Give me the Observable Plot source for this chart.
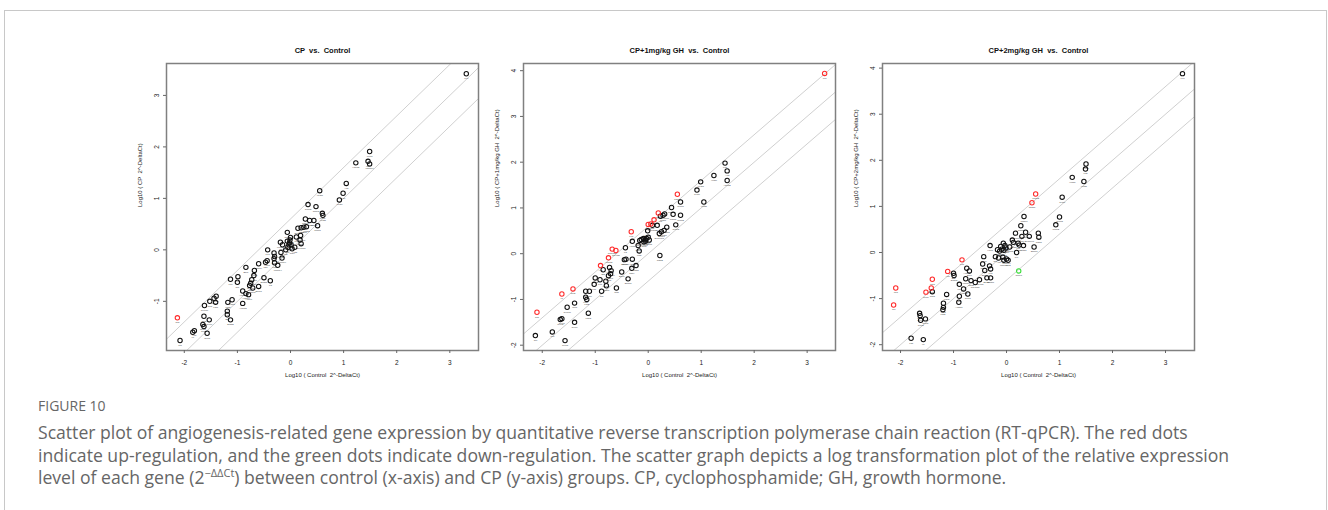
<!DOCTYPE html>
<html><head><meta charset="utf-8">
<script src="https://cdn.jsdelivr.net/npm/d3@7"></script>
<script src="https://cdn.jsdelivr.net/npm/@observablehq/plot@0.6"></script>
<style>
body{margin:0;background:#fff;}
#wrap{position:relative;width:1328px;height:510px;overflow:hidden;background:#fff;}
#frame{position:absolute;left:4px;top:10px;width:1323px;height:620px;border:1px solid #c8c8c8;box-sizing:border-box;}
.panel{position:absolute;top:30px;}
.panel svg{overflow:visible;}
#caption{position:absolute;left:38px;top:396px;width:1285px;font-family:"Open Sans",sans-serif;color:#666;}
#caption .fig{font-size:14px;line-height:20px;margin-bottom:5px;}
#caption .txt{font-size:17.6px;line-height:22.5px;white-space:nowrap;}
#caption sup{font-size:11px;line-height:0;}
</style></head>
<body><div id="wrap"><div id="frame"></div>
<div id="p1" class="panel"></div><div id="p2" class="panel"></div><div id="p3" class="panel"></div>
<div id="caption"><div class="fig">FIGURE 10</div>
<div class="txt">Scatter plot of angiogenesis-related gene expression by quantitative reverse transcription polymerase chain reaction (RT-qPCR). The red dots<br>indicate up-regulation, and the green dots indicate down-regulation. The scatter graph depicts a log transformation plot of the relative expression<br>level of each gene (2<sup>−ΔΔCt</sup>) between control (x-axis) and CP (y-axis) groups. CP, cyclophosphamide; GH, growth hormone.</div></div>
</div>
<script>
const genes = ["Lep","Ifng","Tnf","Il1b","Il6","Ccl2","Cxcl1","Cxcl2","Cxcl5","Cxcl9","Cxcl10","Ccl5","Csf3","Fgf6","Fgf1","Fgf2","Fgfr3","Hgf","Egf","Erbb2","Flt1","Kdr","Tek","Angpt1","Angpt2","Angptl4","Anpep","Bai1","Ccl11","Cdh5","Col18a1","Col4a3","Ctgf","Edn1","Efna1","Ephb4","Epas1","F3","Fn1","Hif1a","Igf1","Itgav","Itgb3","Jag1","Mdk","Mmp14","Mmp19","Mmp2","Mmp3","Mmp9","Nos3","Nrp1","Nrp2","Pdgfa","Pdgfb","Pecam1","Pf4","Pgf","Plau","Plg","Ptgs1","Serpinf1","Serpine1","Sphk1","Tgfa","Tgfb1","Tgfb2","Tgfbr1","Thbs1","Thbs2","Timp1","Timp2","Timp3","Tymp","Vegfa","Vegfb","Vegfc","Figf","Ang","Hand2","Il1a","Lect1","Mapk14","Actb","B2m","Hprt1"];

const xTicks = [-2, -1, 0, 1, 2, 3];
const foldOffsets = [-0.6, 0, 0.6];
const xLabel = "Log10 ( Control  2^-DeltaCt)";

const titles = ["CP  vs.  Control", "CP+1mg/kg GH  vs.  Control", "CP+2mg/kg GH  vs.  Control"];
const yLabels = ["Log10 ( CP  2^-DeltaCt)", "Log10 ( CP+1mg/kg GH  2^-DeltaCt)", "Log10 ( CP+2mg/kg GH  2^-DeltaCt)"];

// Panel 1: CP vs Control
const p1x = [3.31,-2.13,-2.08,-1.81,-1.84,-1.63,-1.65,-1.63,-1.57,-1.53,-1.62,-1.52,-1.44,-1.40,-1.41,-1.18,-1.10,-1.19,-1.19,-1.13,-1.13,-0.99,-1.00,-0.90,-0.90,-0.84,-0.79,-0.84,-0.68,-0.69,-0.73,-0.75,-0.77,-0.71,-0.60,-0.60,-0.50,-0.38,-0.43,-0.44,-0.47,-0.31,-0.30,-0.31,-0.30,-0.24,-0.16,-0.18,-0.19,-0.15,-0.06,-0.06,-0.03,-0.01,0.00,0.01,-0.05,-0.09,0.03,0.11,0.18,0.20,0.19,0.14,0.20,0.25,0.30,0.28,0.36,0.44,0.51,0.33,0.48,0.60,0.61,0.55,0.92,0.99,1.05,1.23,1.46,1.49,1.49,0.08,-0.02];
const p1y = [3.42,-1.32,-1.76,-1.57,-1.60,-1.29,-1.45,-1.49,-1.62,-1.36,-1.08,-1.00,-0.94,-0.90,-1.02,-1.02,-0.97,-1.19,-1.26,-1.36,-0.57,-0.52,-0.63,-0.80,-1.04,-0.85,-0.87,-0.34,-0.40,-0.50,-0.58,-0.65,-0.69,-0.74,-0.71,-0.27,-0.54,-0.60,0.00,-0.21,-0.24,-0.06,-0.13,-0.17,-0.25,-0.30,-0.16,-0.05,0.15,0.10,0.34,0.17,0.10,0.19,0.24,0.10,0.05,0.00,0.02,0.25,0.19,0.12,0.28,0.42,0.43,0.44,0.45,0.60,0.57,0.57,0.47,0.88,0.84,0.71,0.67,1.15,0.97,1.10,1.29,1.69,1.72,1.91,1.67,0.05,0.14];
const p1Up = [1];
const p1Down = [];

// Panel 2: CP+1mg/kg GH vs Control
const p2x = [3.33,-2.10,-2.13,-1.81,-1.63,-1.42,-1.63,-1.66,-1.57,-1.39,-1.53,-1.39,-1.18,-1.11,-1.18,-1.16,-1.13,-0.90,-0.85,-1.00,-0.91,-1.02,-0.88,-0.80,-0.75,-0.73,-0.70,-0.71,-0.75,-0.79,-0.68,-0.61,-0.60,-0.50,-0.45,-0.42,-0.38,-0.43,-0.32,-0.30,-0.30,-0.31,-0.23,-0.19,-0.17,-0.16,-0.13,-0.09,-0.06,-0.03,0.00,-0.08,0.00,0.05,-0.01,0.08,0.17,0.11,0.19,0.23,0.28,0.31,0.21,0.25,0.30,0.35,0.22,0.44,0.47,0.55,0.61,0.61,0.52,0.92,0.99,1.05,1.24,1.45,1.49,1.49,-0.05,0.02];
const p2y = [3.94,-1.28,-1.79,-1.71,-0.88,-0.77,-1.42,-1.44,-1.90,-1.50,-1.17,-1.08,-0.82,-0.82,-0.95,-1.00,-1.30,-0.26,-0.35,-0.53,-0.57,-0.67,-0.82,-0.60,-0.09,-0.30,-0.37,-0.44,-0.48,-0.70,0.10,0.07,-0.75,-0.40,-0.13,-0.12,-0.55,0.13,0.48,0.27,-0.12,-0.32,-0.26,0.18,0.06,0.29,0.31,0.33,0.31,0.33,0.36,0.26,0.64,0.65,0.50,0.62,0.62,0.74,0.89,0.82,0.84,0.87,0.44,0.48,0.51,0.58,-0.04,1.01,0.86,1.30,1.13,0.84,0.63,1.39,1.57,1.13,1.71,1.98,1.81,1.60,0.28,0.30];
const p2Up = [0,1,4,5,17,24,30,31,38,52,53,57,58,69];
const p2Down = [];

// Panel 3: CP+2mg/kg GH vs Control
const p3x = [3.32,-2.09,-2.13,-1.80,-1.57,-1.64,-1.63,-1.62,-1.53,-1.52,-1.42,-1.40,-1.40,-1.19,-1.19,-1.20,-1.13,-1.11,-1.00,-0.99,-0.84,-0.89,-0.89,-0.90,-0.81,-0.77,-0.75,-0.70,-0.73,-0.67,-0.59,-0.51,-0.45,-0.43,-0.41,-0.37,-0.30,-0.32,-0.30,-0.31,-0.21,-0.17,-0.13,-0.11,-0.07,-0.05,0.00,-0.06,-0.03,-0.01,-0.05,-0.09,0.03,0.11,0.13,0.17,0.19,0.22,0.24,0.29,0.32,0.36,0.43,0.52,0.60,0.61,0.27,0.33,0.48,0.55,0.23,0.93,1.00,1.05,1.24,1.46,1.50,1.49,-0.15,0.06];
const p3y = [3.88,-0.77,-1.14,-1.86,-1.89,-1.32,-1.37,-1.47,-1.44,-0.86,-0.77,-0.58,-0.85,-1.10,-1.19,-1.24,-0.91,-0.41,-0.45,-0.50,-0.16,-0.69,-0.95,-1.08,-0.79,-0.57,-0.34,-0.40,-0.90,-0.61,-0.65,-0.59,-0.25,-0.09,-0.39,-0.55,-0.55,-0.29,-0.36,0.15,-0.09,0.06,0.03,0.13,-0.10,-0.17,-0.14,0.20,0.15,0.10,0.05,0.07,-0.17,0.27,0.22,0.42,0.00,0.20,0.16,0.35,0.15,0.44,0.35,0.12,0.42,0.33,0.58,0.78,1.08,1.27,-0.40,0.60,0.77,1.20,1.63,1.54,1.92,1.81,-0.12,0.12];
const p3Up = [1,2,9,10,11,17,20,68,69];
const p3Down = [70];

const statusColor = {none: "#111111", up: "#ff2a2a", down: "#33dd33"};

const panels = [
  {el: "p1", left: 106, x: p1x, y: p1y, up: p1Up, down: p1Down, xDomain: [-2.335, 3.54], yDomain: [-1.955, 3.62], yTicks: [-1, 0, 1, 2, 3], title: titles[0], yLabel: yLabels[0]},
  {el: "p2", left: 463.3, x: p2x, y: p2y, up: p2Up, down: p2Down, xDomain: [-2.354, 3.535], yDomain: [-2.116, 4.157], yTicks: [-2, -1, 0, 1, 2, 3, 4], title: titles[1], yLabel: yLabels[1]},
  {el: "p3", left: 822.3, x: p3x, y: p3y, up: p3Up, down: p3Down, xDomain: [-2.34, 3.547], yDomain: [-2.126, 4.10], yTicks: [-2, -1, 0, 1, 2, 3, 4], title: titles[2], yLabel: yLabels[2]}
];

const font = "'Liberation Sans', Arial, Helvetica, sans-serif";
const fmt = d => String(d);

for (const cfg of panels) {
  const data = cfg.x.map((x, i) => ({
    x, y: cfg.y[i], gene: genes[i % genes.length],
    status: cfg.up.includes(i) ? "up" : cfg.down.includes(i) ? "down" : "none"
  }));
  data.sort((a, b) => (a.status === "none" ? 0 : 1) - (b.status === "none" ? 0 : 1));
  const [x0, x1] = cfg.xDomain;
  const lines = foldOffsets.flatMap(k => [{x: x0, y: x0 + k, k}, {x: x1, y: x1 + k, k}]);
  const chart = Plot.plot({
    width: 392, height: 360,
    marginLeft: 60, marginRight: 20, marginTop: 33, marginBottom: 40,
    style: {background: "transparent", overflow: "visible", fontFamily: font},
    x: {domain: cfg.xDomain},
    y: {domain: cfg.yDomain},
    color: {type: "identity"},
    marks: [
      Plot.line(lines, {x: "x", y: "y", z: "k", stroke: "#d0d0d0", strokeWidth: 1, clip: true}),
      Plot.text(data, {x: "x", y: "y", text: "gene", dy: 4.6, fontSize: 2.4, fill: "#444"}),
      Plot.dot(data, {x: "x", y: "y", r: 2.2, stroke: d => statusColor[d.status], strokeWidth: 1.05, fill: "none"}),
      Plot.frame({stroke: "#808080", strokeWidth: 1.5}),
      Plot.axisX({ticks: xTicks, tickFormat: fmt, tickSize: 3, tickPadding: 7, fontSize: 6.5, label: null, stroke: "#666", fill: "#222"}),
      Plot.axisY({ticks: cfg.yTicks, tickFormat: fmt, tickSize: 3, tickPadding: 5, tickRotate: -90, fontSize: 6.5, label: null, stroke: "#666", fill: "#222"}),
      Plot.text([cfg.title], {frameAnchor: "top", dy: -16, fontWeight: "bold", fontSize: 7.5, fill: "#111"}),
      Plot.text([xLabel], {frameAnchor: "bottom", dy: 26, fontSize: 6, fill: "#222"}),
      Plot.text([cfg.yLabel], {frameAnchor: "left", dx: -26, rotate: -90, fontSize: 6, fill: "#222"})
    ]
  });
  const el = document.getElementById(cfg.el);
  el.style.left = cfg.left + "px";
  el.appendChild(chart);
}
</script>
</body></html>
